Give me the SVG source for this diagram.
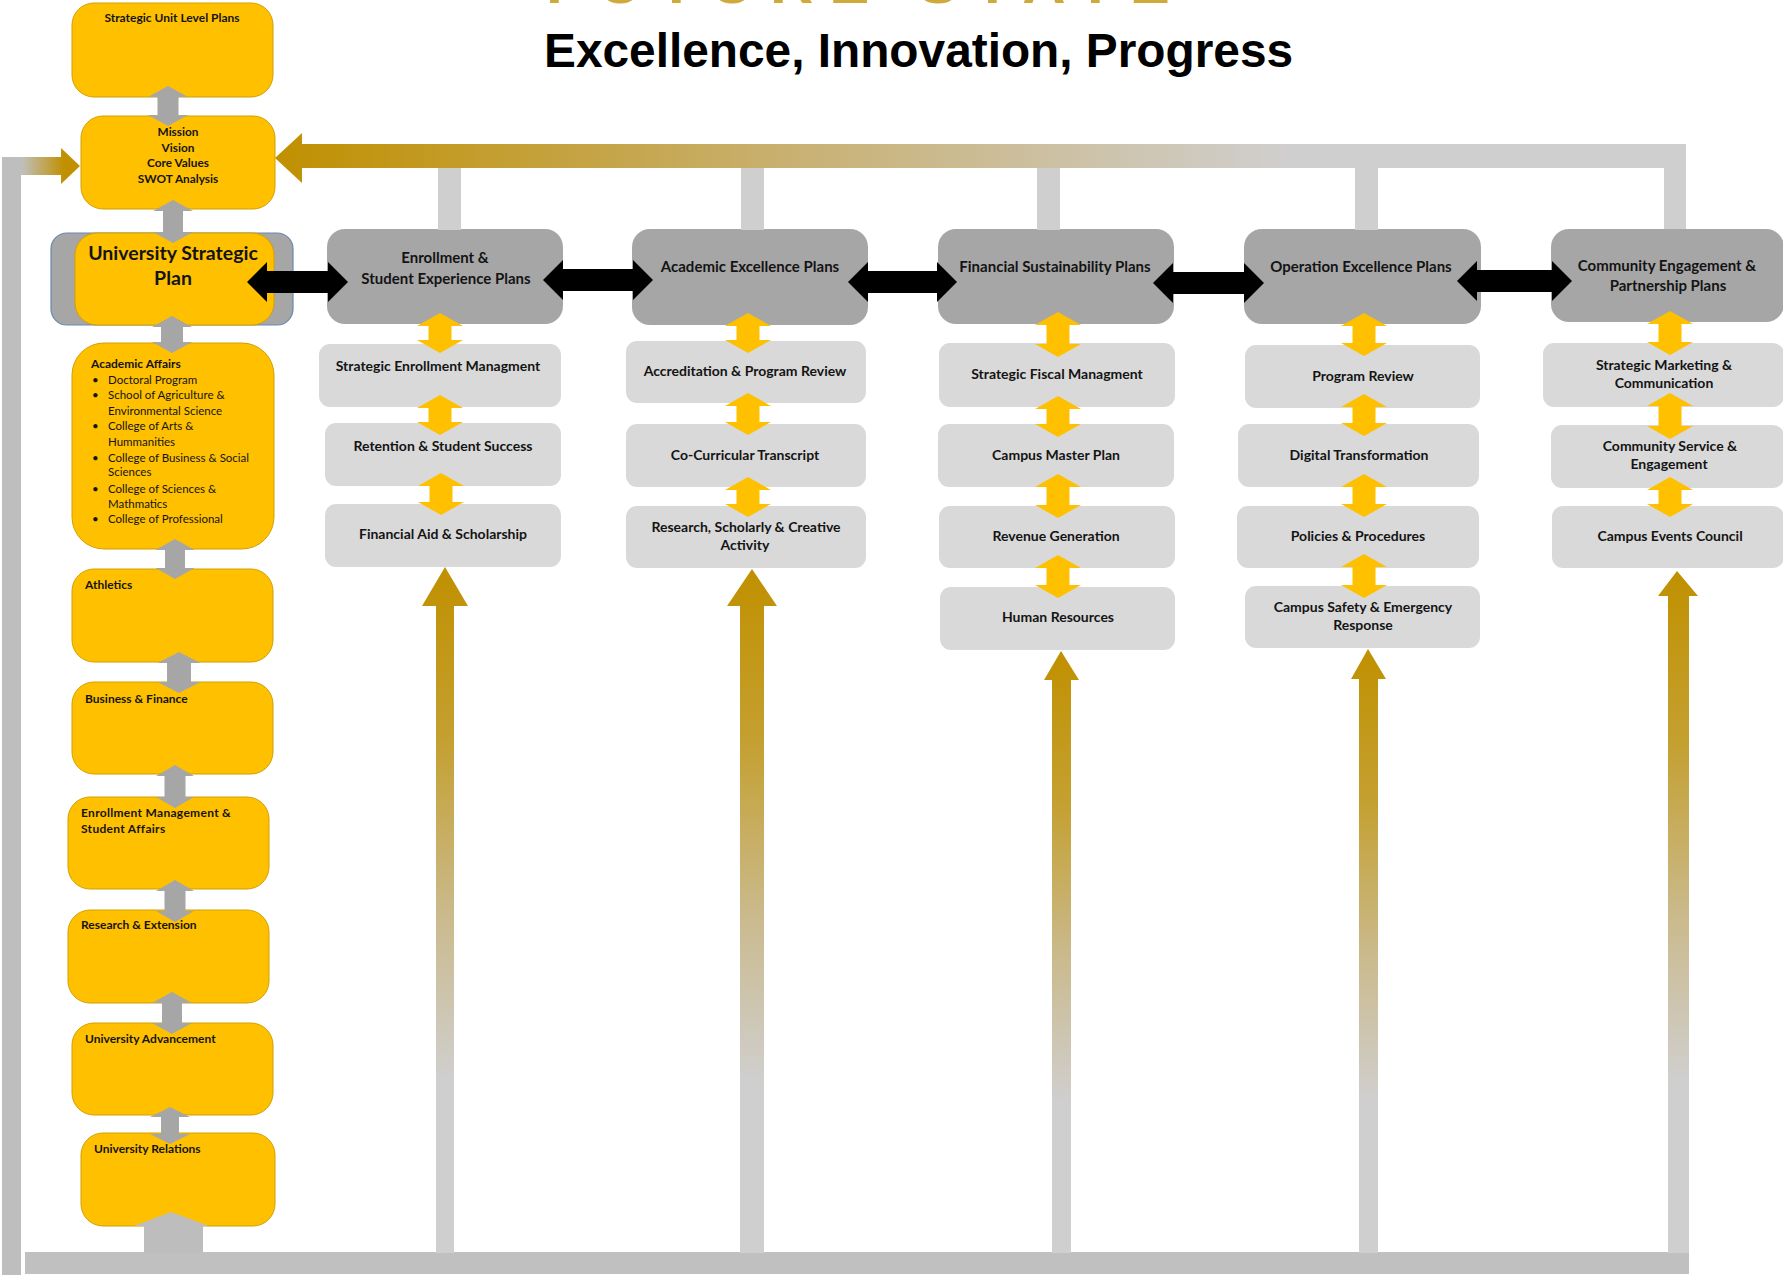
<svg xmlns="http://www.w3.org/2000/svg" width="1783" height="1275" viewBox="0 0 1783 1275">
<style>
.yb{fill:#ffc000;stroke:#d29f00;stroke-width:1}
.hb{fill:#a6a6a6}
.sb{fill:#d9d9d9}
.t{font-family:Lato,'Liberation Sans',sans-serif;font-weight:700;fill:#141414}
.tl{font-size:12px}
.th{font-size:15px;text-anchor:middle}
.ts{font-size:14px;text-anchor:middle}
.tr{font-family:Lato,'Liberation Sans',sans-serif;font-weight:400;font-size:11.5px;fill:#141414}
.ga{fill:#a6a6a6}
.ya{fill:#ffc000}
.ba{fill:#000}
.lg{fill:#d0cfcf}
</style>
<defs>
<linearGradient id="topg" gradientUnits="userSpaceOnUse" x1="275" y1="0" x2="1290" y2="0">
<stop offset="0" stop-color="#c09000"/>
<stop offset="0.5" stop-color="#c8b070"/>
<stop offset="1" stop-color="#d0cfcf"/>
</linearGradient>
<linearGradient id="leftg" gradientUnits="userSpaceOnUse" x1="21" y1="0" x2="64" y2="0">
<stop offset="0" stop-color="#c0c0c0"/>
<stop offset="1" stop-color="#c09000"/>
</linearGradient>
<linearGradient id="upg" x1="0" y1="0" x2="0" y2="1">
<stop offset="0" stop-color="#c09000"/>
<stop offset="0.25" stop-color="#c4a030"/>
<stop offset="0.5" stop-color="#cab98a"/>
<stop offset="0.75" stop-color="#d0cfcf"/>
<stop offset="1" stop-color="#cfcfcf"/>
</linearGradient>
</defs>
<rect width="1783" height="1275" fill="#fff"/>

<g id="title">
<text x="546" y="3" style="font-family:'Liberation Sans',Arial,sans-serif;font-weight:700;font-size:60px;letter-spacing:16px;fill:#cfaa3a">FUTURE STATE</text>
<text x="544" y="67" style="font-family:'Liberation Sans',Arial,sans-serif;font-weight:700;font-size:47.8px;fill:#000">Excellence, Innovation, Progress</text>
</g>

<!-- left column nodes -->
<g id="strategic-unit-plans">
<rect class="yb" x="72" y="3" width="201" height="94" rx="22"/>
<text class="t tl" x="172" y="22" text-anchor="middle">Strategic Unit Level Plans</text>
</g>
<g id="mission">
<rect class="yb" x="81" y="116" width="194" height="93" rx="22"/>
<text class="t" style="font-size:11.8px" text-anchor="middle"><tspan x="178" y="136">Mission</tspan><tspan x="178" y="152">Vision</tspan><tspan x="178" y="167">Core Values</tspan><tspan x="178" y="183">SWOT  Analysis</tspan></text>
</g>
<g id="university-strategic-plan">
<rect x="51" y="233" width="242" height="92" rx="16" fill="#a6a6a6" stroke="#6a88b0" stroke-width="1.2"/>
<rect class="yb" x="75" y="233" width="199" height="92" rx="22"/>
<text class="t" style="font-size:19.5px" text-anchor="middle"><tspan x="173" y="260">University Strategic</tspan><tspan x="173" y="285">Plan</tspan></text>
</g>
<g id="academic-affairs">
<rect class="yb" x="72" y="343" width="202" height="206" rx="32"/>
<text class="t tl" x="91" y="368">Academic Affairs</text>
<g class="tr">
<text x="92" y="384">•</text><text x="108" y="384">Doctoral Program</text>
<text x="92" y="399">•</text><text x="108" y="399">School of Agriculture &amp;</text>
<text x="108" y="415">Environmental Science</text>
<text x="92" y="430">•</text><text x="108" y="430">College of Arts &amp;</text>
<text x="108" y="446">Hummanities</text>
<text x="92" y="462">•</text><text x="108" y="462">College of Business &amp; Social</text>
<text x="108" y="476">Sciences</text>
<text x="92" y="493">•</text><text x="108" y="493">College of Sciences &amp;</text>
<text x="108" y="508">Mathmatics</text>
<text x="92" y="523">•</text><text x="108" y="523">College of Professional</text>
</g>
</g>
<g id="athletics">
<rect class="yb" x="72" y="569" width="201" height="93" rx="22"/>
<text class="t tl" x="85" y="589">Athletics</text>
</g>
<g id="business-finance">
<rect class="yb" x="72" y="682" width="201" height="92" rx="22"/>
<text class="t tl" x="85" y="703">Business &amp; Finance</text>
</g>
<g id="enrollment-management">
<rect class="yb" x="68" y="797" width="201" height="92" rx="22"/>
<text class="t tl" style="letter-spacing:0.3px"><tspan x="81" y="817">Enrollment Management &amp;</tspan><tspan x="81" y="833">Student Affairs</tspan></text>
</g>
<g id="research-extension">
<rect class="yb" x="68" y="910" width="201" height="93" rx="22"/>
<text class="t tl" x="81" y="929">Research &amp; Extension</text>
</g>
<g id="university-advancement">
<rect class="yb" x="72" y="1023" width="201" height="92" rx="22"/>
<text class="t tl" x="85" y="1043">University Advancement</text>
</g>
<g id="university-relations">
<rect class="yb" x="81" y="1133" width="194" height="93" rx="22"/>
<text class="t tl" x="94" y="1153">University Relations</text>
</g>

<!-- column headers -->
<g id="enrollment-plans">
<rect class="hb" x="327" y="229" width="236" height="95" rx="18"/>
<text class="t th"><tspan x="445" y="263">Enrollment &amp;</tspan><tspan x="446" y="284">Student Experience Plans</tspan></text>
</g>
<g id="academic-plans">
<rect class="hb" x="632" y="229" width="236" height="96" rx="18"/>
<text class="t th" x="750" y="272">Academic Excellence Plans</text>
</g>
<g id="financial-plans">
<rect class="hb" x="938" y="229" width="236" height="95" rx="18"/>
<text class="t th" x="1055" y="272">Financial Sustainability Plans</text>
</g>
<g id="operation-plans">
<rect class="hb" x="1244" y="229" width="237" height="95" rx="18"/>
<text class="t th" x="1361" y="272">Operation Excellence Plans</text>
</g>
<g id="community-plans">
<rect class="hb" x="1551" y="229" width="233" height="93" rx="18"/>
<text class="t th"><tspan x="1667" y="271">Community Engagement &amp;</tspan><tspan x="1668" y="291">Partnership Plans</tspan></text>
</g>

<!-- column 1 -->
<g id="strategic-enrollment"><rect class="sb" x="319" y="344" width="242" height="63" rx="11"/><text class="t ts" x="438" y="371">Strategic Enrollment Managment</text></g>
<g id="retention"><rect class="sb" x="325" y="423" width="236" height="63" rx="11"/><text class="t ts" x="443" y="451">Retention &amp; Student Success</text></g>
<g id="financial-aid"><rect class="sb" x="325" y="504" width="236" height="63" rx="11"/><text class="t ts" x="443" y="539">Financial  Aid &amp; Scholarship</text></g>
<!-- column 2 -->
<g id="accreditation"><rect class="sb" x="626" y="341" width="240" height="62" rx="11"/><text class="t ts" x="745" y="376">Accreditation &amp; Program Review</text></g>
<g id="co-curricular"><rect class="sb" x="626" y="424" width="240" height="63" rx="11"/><text class="t ts" x="745" y="460">Co-Curricular Transcript</text></g>
<g id="research-scholarly"><rect class="sb" x="626" y="506" width="240" height="62" rx="11"/><text class="t ts"><tspan x="746" y="532">Research, Scholarly &amp; Creative</tspan><tspan x="745" y="550">Activity</tspan></text></g>
<!-- column 3 -->
<g id="strategic-fiscal"><rect class="sb" x="939" y="343" width="236" height="64" rx="11"/><text class="t ts" x="1057" y="379">Strategic Fiscal  Managment</text></g>
<g id="campus-master-plan"><rect class="sb" x="938" y="424" width="236" height="63" rx="11"/><text class="t ts" x="1056" y="460">Campus Master Plan</text></g>
<g id="revenue-generation"><rect class="sb" x="939" y="506" width="236" height="62" rx="11"/><text class="t ts" x="1056" y="541">Revenue Generation</text></g>
<g id="human-resources"><rect class="sb" x="940" y="587" width="235" height="63" rx="11"/><text class="t ts" x="1058" y="622">Human Resources</text></g>
<!-- column 4 -->
<g id="program-review"><rect class="sb" x="1245" y="345" width="235" height="63" rx="11"/><text class="t ts" x="1363" y="381">Program Review</text></g>
<g id="digital-transformation"><rect class="sb" x="1238" y="424" width="241" height="63" rx="11"/><text class="t ts" x="1359" y="460">Digital Transformation</text></g>
<g id="policies-procedures"><rect class="sb" x="1237" y="506" width="242" height="62" rx="11"/><text class="t ts" x="1358" y="541">Policies &amp; Procedures</text></g>
<g id="campus-safety"><rect class="sb" x="1245" y="586" width="235" height="62" rx="11"/><text class="t ts"><tspan x="1363" y="612">Campus Safety &amp; Emergency</tspan><tspan x="1363" y="630">Response</tspan></text></g>
<!-- column 5 -->
<g id="strategic-marketing"><rect class="sb" x="1543" y="343" width="241" height="64" rx="11"/><text class="t ts"><tspan x="1664" y="370">Strategic Marketing &amp;</tspan><tspan x="1664" y="388">Communication</tspan></text></g>
<g id="community-service"><rect class="sb" x="1551" y="425" width="233" height="63" rx="11"/><text class="t ts"><tspan x="1670" y="451">Community Service &amp;</tspan><tspan x="1669" y="469">Engagement</tspan></text></g>
<g id="campus-events"><rect class="sb" x="1552" y="506" width="232" height="62" rx="11"/><text class="t ts" x="1670" y="541">Campus Events Council</text></g>

<g id="connectors">
<!-- top feedback arrow -->
<rect class="lg" x="438" y="166" width="23" height="64"/>
<rect class="lg" x="741" y="166" width="23" height="64"/>
<rect class="lg" x="1037" y="166" width="23" height="64"/>
<rect class="lg" x="1355" y="166" width="23" height="64"/>
<path class="lg" d="M1664,150 H1686 V229 H1664 Z"/>
<path fill="url(#topg)" d="M275,158 L302,133 L302,144 L1686,144 L1686,168 L302,168 L302,183 Z"/>
<!-- left feedback arrow -->
<rect x="2" y="157" width="19" height="1118" fill="#bebebe"/>
<path fill="url(#leftg)" d="M21,157 H61 V148 L80,166 L61,184 V175 H21 Z"/>
<!-- bottom bar -->
<rect x="25" y="1252" width="1664" height="22" fill="#c0c0c0"/>
<path fill="#bdbdbd" d="M171,1212 L209,1226 L203,1226 L203,1253 L144,1253 L144,1226 L134,1226 Z"/>
<!-- gold up arrows -->
<path fill="url(#upg)" d="M445,567 L468,606 L454,606 L454,1253 L436,1253 L436,606 L422,606 Z"/>
<path fill="url(#upg)" d="M752,569 L777,606 L764,606 L764,1253 L740,1253 L740,606 L727,606 Z"/>
<path fill="url(#upg)" d="M1061,651 L1079,680 L1071,680 L1071,1253 L1052,1253 L1052,680 L1044,680 Z"/>
<path fill="url(#upg)" d="M1368,649 L1386,679 L1378,679 L1378,1253 L1359,1253 L1359,679 L1351,679 Z"/>
<path fill="url(#upg)" d="M1677,571 L1698,596 L1689,596 L1689,1253 L1668,1253 L1668,596 L1658,596 Z"/>
<!-- gray double arrows, left column -->
<path class="ga" d="M168,86 L188,97 L178.5,97 L178.5,115 L188,115 L168,126 L148,115 L157.5,115 L157.5,97 L148,97 Z"/>
<path class="ga" d="M173,200 L193,211 L183,211 L183,232 L193,232 L173,243 L153,232 L163,232 L163,211 L153,211 Z"/>
<path class="ga" d="M172,316 L192,327 L183,327 L183,342 L192,342 L172,353 L152,342 L161,342 L161,327 L152,327 Z"/>
<path class="ga" d="M175,539 L194.5,550 L185,550 L185,568 L194.5,568 L175,579 L155.5,568 L165,568 L165,550 L155.5,550 Z"/>
<path class="ga" d="M179,652 L200.5,663 L191,663 L191,682 L200.5,682 L179,693 L157.5,682 L167,682 L167,663 L157.5,663 Z"/>
<path class="ga" d="M175,765 L194,776 L185.5,776 L185.5,797 L194,797 L175,808 L156,797 L164.5,797 L164.5,776 L156,776 Z"/>
<path class="ga" d="M175,880 L194,891 L185.5,891 L185.5,911 L194,911 L175,922 L156,911 L164.5,911 L164.5,891 L156,891 Z"/>
<path class="ga" d="M172,992 L192,1003 L182,1003 L182,1023 L192,1023 L172,1034 L152,1023 L162,1023 L162,1003 L152,1003 Z"/>
<path class="ga" d="M170,1107 L190,1117 L179,1117 L179,1134 L190,1134 L170,1144 L150,1134 L161,1134 L161,1117 L150,1117 Z"/>
<!-- black horizontal double arrows -->
<path class="ba" d="M247,282 L267,262 L267,271 L328,271 L328,262 L348,282 L328,302 L328,293 L267,293 L267,302 Z"/>
<path class="ba" d="M543,280 L563,260 L563,269 L633,269 L633,260 L653,280 L633,300 L633,291 L563,291 L563,300 Z"/>
<path class="ba" d="M848,282 L868,262 L868,271 L937,271 L937,262 L957,282 L937,302 L937,293 L868,293 L868,302 Z"/>
<path class="ba" d="M1153,283 L1173,263 L1173,272 L1244,272 L1244,263 L1264,283 L1244,303 L1244,294 L1173,294 L1173,303 Z"/>
<path class="ba" d="M1457,281 L1477,261 L1477,270 L1552,270 L1552,261 L1572,281 L1552,301 L1552,292 L1477,292 L1477,301 Z"/>
<!-- yellow double arrows -->
<g class="ya">
<path d="M440,313 L463,326 L451.5,326 L451.5,340 L463,340 L440,353 L417,340 L428.5,340 L428.5,326 L417,326 Z"/>
<path d="M440,395 L463,408 L451.5,408 L451.5,422 L463,422 L440,435 L417,422 L428.5,422 L428.5,408 L417,408 Z"/>
<path d="M441,473 L464,486 L452.5,486 L452.5,502 L464,502 L441,515 L418,502 L429.5,502 L429.5,486 L418,486 Z"/>
<path d="M748,313 L771,326 L759.5,326 L759.5,340 L771,340 L748,353 L725,340 L736.5,340 L736.5,326 L725,326 Z"/>
<path d="M748,393 L771,406 L759.5,406 L759.5,422 L771,422 L748,435 L725,422 L736.5,422 L736.5,406 L725,406 Z"/>
<path d="M748,477 L771,490 L759.5,490 L759.5,504 L771,504 L748,517 L725,504 L736.5,504 L736.5,490 L725,490 Z"/>
<path d="M1058,312 L1081,325 L1069.5,325 L1069.5,344 L1081,344 L1058,357 L1035,344 L1046.5,344 L1046.5,325 L1035,325 Z"/>
<path d="M1058,396 L1081,409 L1069.5,409 L1069.5,424 L1081,424 L1058,437 L1035,424 L1046.5,424 L1046.5,409 L1035,409 Z"/>
<path d="M1058,474 L1081,487 L1069.5,487 L1069.5,505 L1081,505 L1058,518 L1035,505 L1046.5,505 L1046.5,487 L1035,487 Z"/>
<path d="M1058,555 L1081,568 L1069.5,568 L1069.5,585 L1081,585 L1058,598 L1035,585 L1046.5,585 L1046.5,568 L1035,568 Z"/>
<path d="M1364,313 L1387,326 L1375.5,326 L1375.5,343 L1387,343 L1364,356 L1341,343 L1352.5,343 L1352.5,326 L1341,326 Z"/>
<path d="M1364,394 L1387,407 L1375.5,407 L1375.5,423 L1387,423 L1364,436 L1341,423 L1352.5,423 L1352.5,407 L1341,407 Z"/>
<path d="M1364,474 L1387,487 L1375.5,487 L1375.5,504 L1387,504 L1364,517 L1341,504 L1352.5,504 L1352.5,487 L1341,487 Z"/>
<path d="M1364,554 L1387,567 L1375.5,567 L1375.5,585 L1387,585 L1364,598 L1341,585 L1352.5,585 L1352.5,567 L1341,567 Z"/>
<path d="M1670,311 L1693,324 L1681.5,324 L1681.5,342 L1693,342 L1670,355 L1647,342 L1658.5,342 L1658.5,324 L1647,324 Z"/>
<path d="M1670,393 L1693,406 L1681.5,406 L1681.5,426 L1693,426 L1670,439 L1647,426 L1658.5,426 L1658.5,406 L1647,406 Z"/>
<path d="M1670,477 L1693,490 L1681.5,490 L1681.5,504 L1693,504 L1670,517 L1647,504 L1658.5,504 L1658.5,490 L1647,490 Z"/>
</g>
</g>
</svg>
